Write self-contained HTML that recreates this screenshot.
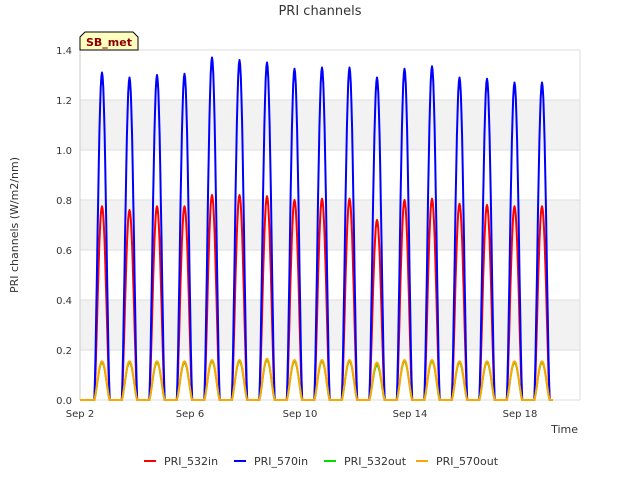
<!DOCTYPE html>
<html><head><meta charset="utf-8"><style>
body{margin:0;background:#fff;font-family:"Liberation Sans","DejaVu Sans",sans-serif;}
svg text{font-family:"DejaVu Sans","Liberation Sans",sans-serif;}
</style></head><body>
<svg id="chart" width="640" height="480" xmlns="http://www.w3.org/2000/svg">
<rect width="640" height="480" fill="#fff"/>
<text x="320" y="15" text-anchor="middle" font-size="13" fill="#333">PRI channels</text>
<g id="bands"></g>
<g id="grid"></g>
<g id="series"></g>
<g id="axes"></g>
<text transform="translate(18,225) rotate(-90)" text-anchor="middle" font-size="11" fill="#333">PRI channels (W/m2/nm)</text>
<text x="578" y="433" text-anchor="end" font-size="11" fill="#333">Time</text>
<g>
<path d="M80,50 L80,37 L85,32 L133,32 L138,37 L138,50 Z" fill="#ffffc0" stroke="#000" stroke-width="1"/>
<text x="109" y="46" text-anchor="middle" font-size="11" font-weight="bold" fill="#8b0000">SB_met</text>
</g>
<g id="legend"></g>
</svg>
<script>
const days=[2,3,4,5,6,7,8,9,10,11,12,13,14,15,16,17,18];
const peak570in=[1.31,1.29,1.30,1.305,1.37,1.36,1.35,1.325,1.33,1.33,1.29,1.325,1.335,1.29,1.285,1.27,1.27];
const peak532in=[0.775,0.76,0.775,0.775,0.82,0.82,0.815,0.80,0.805,0.805,0.72,0.80,0.805,0.785,0.78,0.775,0.775];
const peak532out=[0.15,0.15,0.15,0.15,0.155,0.155,0.16,0.155,0.155,0.155,0.14,0.155,0.155,0.15,0.15,0.15,0.15];
const peak570out=[0.155,0.155,0.155,0.155,0.16,0.16,0.165,0.16,0.16,0.16,0.15,0.16,0.16,0.155,0.155,0.155,0.155];
const yTicks=[0,0.2,0.4,0.6,0.8,1.0,1.2,1.4];
const xTickDays=[2,6,10,14,18];
const xTickLabels=["Sep 2","Sep 6","Sep 10","Sep 14","Sep 18"];
const L=80,R=580,T=50,B=400;
const xs=d=>L+(d-2)*27.5;
const ys=v=>B-(v/1.4)*(B-T);
const NS="http://www.w3.org/2000/svg";
function mk(tag,attrs,parent){const e=document.createElementNS(NS,tag);for(const k in attrs)e.setAttribute(k,attrs[k]);parent.appendChild(e);return e;}
const bands=document.getElementById('bands'),grid=document.getElementById('grid'),axes=document.getElementById('axes'),series=document.getElementById('series');
for(let i=0;i<yTicks.length-1;i++){if(i%2===1){const r=mk('rect',{x:L,y:ys(yTicks[i+1]),width:R-L,height:ys(yTicks[i])-ys(yTicks[i+1]),fill:'#f2f2f2'},bands);

}}
yTicks.forEach(v=>{const l=mk('line',{x1:L,x2:R,y1:ys(v),y2:ys(v),stroke:'#ddd','stroke-width':1},grid);


const t=mk('text',{x:L-8,y:ys(v)+4,'text-anchor':'end','font-size':10,fill:'#333'},axes);t.textContent=v.toFixed(1);

});
mk('line',{x1:L,x2:L,y1:T,y2:B,stroke:'#ccc'},grid);mk('line',{x1:R,x2:R,y1:T,y2:B,stroke:'#ddd'},grid);
xTickDays.forEach((d,i)=>{const t=mk('text',{x:xs(d),y:B+17,'text-anchor':'middle','font-size':10,fill:'#333'},axes);t.textContent=xTickLabels[i];

});
function build(peaks){let pts=[[xs(2),ys(0)]];const rise=0.52,len=0.56;
peaks.forEach((p,i)=>{const d=days[i];pts.push([xs(d+rise),ys(0)]);
for(let k=1;k<24;k++){const f=k/24;const v=p*Math.pow(Math.sin(Math.PI*f),1.4);pts.push([xs(d+rise+f*len),ys(v)]);}
pts.push([xs(d+rise+len),ys(0)]);});
pts.push([xs(19.2),ys(0)]);return pts.map(p=>p[0].toFixed(1)+','+p[1].toFixed(1)).join(' ');}
const defs=[["PRI_532in",peak532in,"#ff0000"],["PRI_570in",peak570in,"#0000ff"],["PRI_532out",peak532out,"#00dd00"],["PRI_570out",peak570out,"#ffa500"]];
defs.forEach(s=>{const pl=mk('polyline',{points:build(s[1]),fill:'none',stroke:s[2],'stroke-width':2,'stroke-linejoin':'round'},series);

});
const lg=document.getElementById('legend');const lx=[144,234,324,416];
defs.forEach((s,i)=>{const g=mk('g',{},lg);


mk('line',{x1:lx[i],x2:lx[i]+12,y1:461,y2:461,stroke:s[2],'stroke-width':2},g);
const t=mk('text',{x:lx[i]+20,y:465,'font-size':11,fill:'#333'},g);t.textContent=s[0];});
</script>
</body></html>
